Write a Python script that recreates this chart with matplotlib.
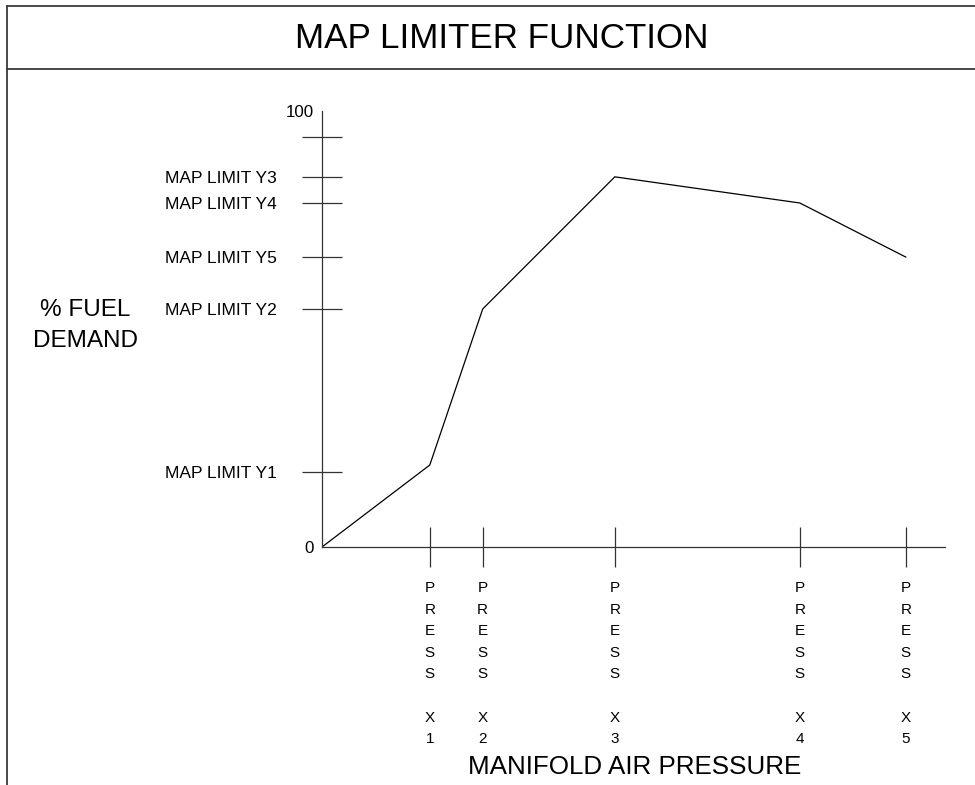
import matplotlib
matplotlib.use("Agg")
import matplotlib.pyplot as plt
from matplotlib.lines import Line2D

plt.rcParams['font.family'] = ['Liberation Sans', 'DejaVu Sans']

# ---- data ----
title = "MAP LIMITER FUNCTION"
x_label = "MANIFOLD AIR PRESSURE"
y_label_lines = ["% FUEL", "DEMAND"]

press_x = [17.3, 25.8, 47.0, 76.7, 93.7]
press_labels = ["P\nR\nE\nS\nS\n\nX\n1", "P\nR\nE\nS\nS\n\nX\n2", "P\nR\nE\nS\nS\n\nX\n3",
                "P\nR\nE\nS\nS\n\nX\n4", "P\nR\nE\nS\nS\n\nX\n5"]

limit_y = [17.2, 54.6, 84.9, 78.9, 66.5, 94.0]
limit_labels = ["MAP LIMIT Y1", "MAP LIMIT Y2", "MAP LIMIT Y3", "MAP LIMIT Y4", "MAP LIMIT Y5", ""]

end_y = [0, 100]
end_labels = ["0", "100"]

curve_x = [0, 17.3, 25.8, 47.0, 76.7, 93.7]
curve_y = [0, 18.8, 54.6, 84.9, 78.9, 66.5]

# ---- figure ----
W, H = 975, 785
fig = plt.figure(figsize=(W / 100, H / 100), dpi=100)

def fx(px):
    return px / W

def fy(py):
    return 1 - py / H

# frame lines
frame_col = '#3a3a3a'
fig.add_artist(Line2D([fx(6.5), 1.0], [fy(5.5), fy(5.5)], color=frame_col, lw=1.3))
fig.add_artist(Line2D([fx(6.5), 1.0], [fy(68.5), fy(68.5)], color=frame_col, lw=1.3))
fig.add_artist(Line2D([fx(6.5), fx(6.5)], [fy(5.5), 0.0], color=frame_col, lw=1.3))

fig.text(fx(501.5), fy(48), title, ha='center', va='baseline', fontsize=25.2, color='black')
fig.text(fx(634.5), fy(774), x_label, ha='center', va='baseline', fontsize=18.7, color='black')
fig.text(fx(85.5), fy(316), y_label_lines[0], ha='center', va='baseline', fontsize=17.5, color='black')
fig.text(fx(85.5), fy(347), y_label_lines[1], ha='center', va='baseline', fontsize=17.5, color='black')

# axes
left, right, top, bottom = 322, 945, 111, 547
ax = fig.add_axes([fx(left), fy(bottom), (right - left) / W, (bottom - top) / H])
ax.set_xlim(0, 100)
ax.set_ylim(0, 100)
ax.patch.set_visible(False)
for s in ['top', 'right']:
    ax.spines[s].set_visible(False)
axis_col = '#333333'
for s in ['left', 'bottom']:
    ax.spines[s].set_color(axis_col)
    ax.spines[s].set_linewidth(0.9)

ax.plot(curve_x, curve_y, color='black', lw=0.9, solid_joinstyle='miter')

# y ticks
ax.set_yticks(limit_y)
ax.set_yticklabels(limit_labels, fontsize=12.5)
ax.tick_params(axis='y', which='major', direction='inout', length=29.5, width=0.9,
               color=axis_col, pad=17.5)
ax.set_yticks(end_y, minor=True)
ax.set_yticklabels(end_labels, minor=True, fontsize=12.2)
ax.tick_params(axis='y', which='minor', length=0, pad=6)

# x ticks
ax.set_xticks(press_x)
ax.set_xticklabels(press_labels, fontsize=11, linespacing=1.69, ha='center')
ax.tick_params(axis='x', which='major', direction='inout', length=29, width=0.9,
               color=axis_col, pad=10)

fig.savefig("out.png", dpi=100, facecolor='white')
